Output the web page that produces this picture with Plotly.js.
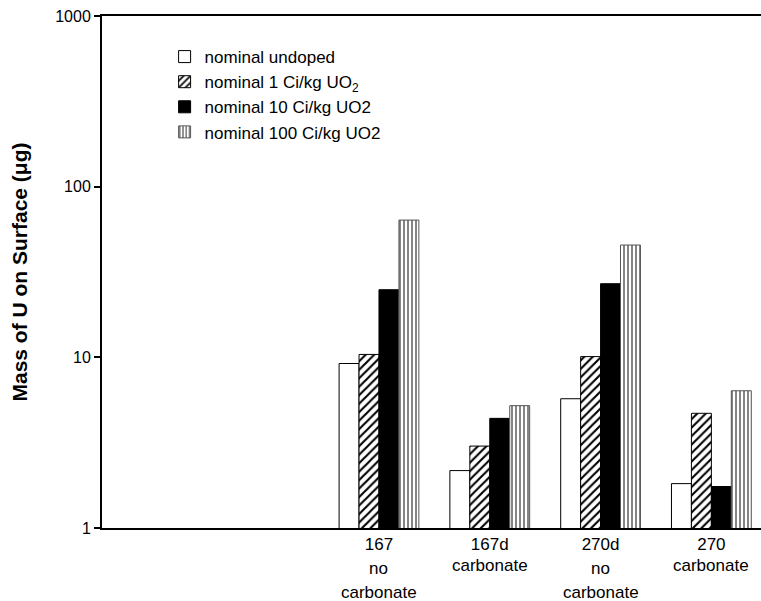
<!DOCTYPE html>
<html>
<head>
<meta charset="utf-8">
<script src="https://cdn.plot.ly/plotly-3.0.1.min.js"></script>
<style>html,body{margin:0;padding:0;background:#fff;}#chart{width:761px;height:601px;}</style>
</head>
<body>
<div id="chart"></div>
<script>
// Data
var categories = ['167', '167d', '270d', '270'];
var subLabels = [['no', 'carbonate'], ['carbonate'], ['no', 'carbonate'], ['carbonate']];
var seriesNames = ['nominal undoped', 'nominal 1 Ci/kg UO<sub>2</sub>', 'nominal 10 Ci/kg UO2', 'nominal 100 Ci/kg UO2'];
var undoped = [9.2, 2.17, 5.72, 1.82];
var doped1 = [10.4, 3.02, 10.1, 4.70];
var doped10 = [24.9, 4.39, 27.0, 1.75];
var doped100 = [63.7, 5.21, 45.5, 6.37];
var yTicks = [1, 10, 100, 1000];

var font = 'Liberation Sans, Arial, sans-serif';

var traces = [
  {name: seriesNames[0], y: undoped, marker: {color: 'white', line: {color: 'black', width: 1}}},
  {name: seriesNames[1], y: doped1, marker: {color: 'white', line: {color: 'black', width: 1},
    pattern: {shape: '/', size: 6, solidity: 0.35, fgcolor: 'black', bgcolor: 'white', fillmode: 'replace'}}},
  {name: seriesNames[2], y: doped10, marker: {color: 'black', line: {color: 'black', width: 1}}},
  {name: seriesNames[3], y: doped100, marker: {color: 'white', line: {color: '#555', width: 1},
    pattern: {shape: '|', size: 4, solidity: 0.3, fgcolor: '#333', bgcolor: 'white', fillmode: 'replace'}}}
].map(function (t) {
  t.type = 'bar';
  t.x = categories;
  return t;
});

var annotations = [];
subLabels.forEach(function (lines, i) {
  lines.forEach(function (txt, j) {
    annotations.push({
      x: i, xref: 'x', y: 0, yref: 'paper',
      yanchor: 'middle', yshift: (lines.length === 2 ? -40 - j * 24 : -37),
      text: txt, showarrow: false,
      font: {family: font, size: 17, color: 'black'}
    });
  });
});

var layout = {
  width: 761, height: 601,
  margin: {l: 102, r: 0, t: 16, b: 73},
  paper_bgcolor: 'white', plot_bgcolor: 'white',
  barmode: 'group', bargap: 0.28, bargroupgap: 0,
  showlegend: true,
  legend: {x: 0.095, y: 0.955, xanchor: 'left', yanchor: 'top', bgcolor: 'rgba(0,0,0,0)',
    font: {family: font, size: 17, color: 'black'}, tracegroupgap: 0, itemwidth: 30},
  xaxis: {
    type: 'category', range: [-2.5, 3.448],
    showline: true, linecolor: 'black', linewidth: 2, mirror: true,
    ticks: '', showgrid: false, zeroline: false,
    tickfont: {family: font, size: 17, color: 'black'}
  },
  yaxis: {
    type: 'log', range: [0, 3],
    tickvals: yTicks, ticktext: yTicks.map(String),
    ticks: 'outside', ticklen: 6, tickwidth: 2, tickcolor: 'black',
    showline: true, linecolor: 'black', linewidth: 2, mirror: false,
    showgrid: false, zeroline: false,
    tickfont: {family: font, size: 16, color: 'black'},
    title: {text: 'Mass of U on Surface (μg)', standoff: 22,
      font: {family: font, size: 21, color: 'black', weight: 'bold'}}
  },
  annotations: annotations
};

Plotly.newPlot('chart', traces, layout, {displayModeBar: false, staticPlot: true});
</script>
</body>
</html>
